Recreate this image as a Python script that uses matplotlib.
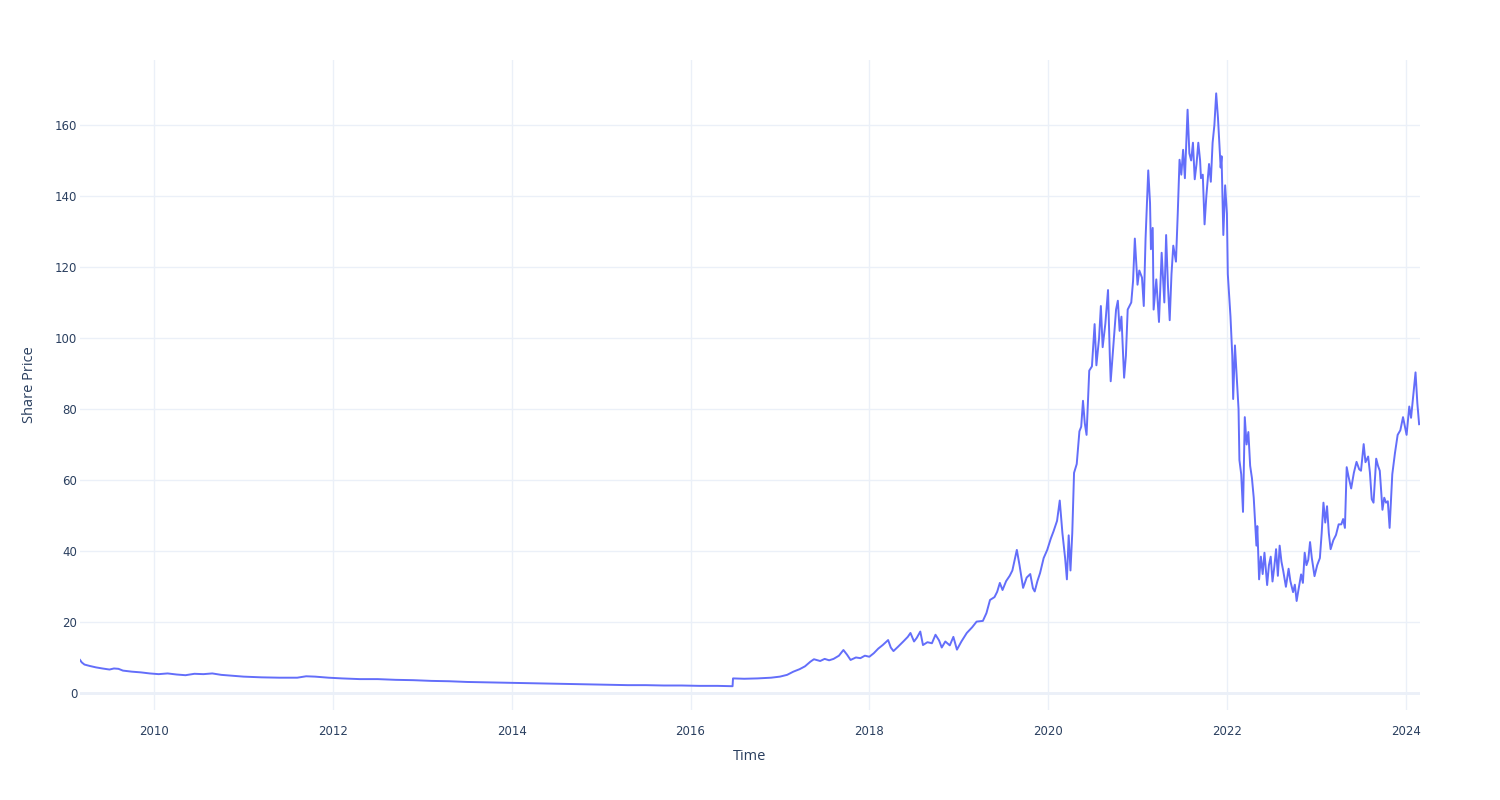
import matplotlib
matplotlib.use("Agg")
import matplotlib.pyplot as plt

# anos (decimal) e precos
anos = [2009.17, 2009.19, 2009.22, 2009.28, 2009.35, 2009.42, 2009.50, 2009.55, 2009.60, 2009.65,
        2009.75, 2009.85, 2009.95, 2010.05, 2010.15, 2010.25, 2010.35, 2010.45, 2010.55, 2010.65,
        2010.75, 2010.85, 2011.0, 2011.2, 2011.4, 2011.6, 2011.7, 2011.8, 2011.95, 2012.1,
        2012.3, 2012.5, 2012.7, 2012.9, 2013.1, 2013.3, 2013.5, 2013.7, 2013.9, 2014.1,
        2014.3, 2014.5, 2014.7, 2014.9, 2015.1, 2015.3, 2015.5, 2015.7, 2015.9, 2016.1,
        2016.3, 2016.47, 2016.475, 2016.6, 2016.75, 2016.9, 2017.0, 2017.08, 2017.15, 2017.22,
        2017.28, 2017.34, 2017.38, 2017.45, 2017.5, 2017.55, 2017.6, 2017.66, 2017.71, 2017.75,
        2017.79, 2017.85, 2017.9, 2017.95, 2018.0, 2018.05, 2018.1, 2018.15, 2018.21, 2018.24,
        2018.27, 2018.32, 2018.38, 2018.43, 2018.46, 2018.5, 2018.53, 2018.57, 2018.6, 2018.65,
        2018.7, 2018.74, 2018.78, 2018.81, 2018.85, 2018.9, 2018.94, 2018.98, 2019.03, 2019.09,
        2019.15, 2019.2, 2019.27, 2019.31, 2019.35, 2019.4, 2019.43, 2019.46, 2019.49, 2019.53,
        2019.57, 2019.6, 2019.65, 2019.68, 2019.72, 2019.76, 2019.8, 2019.83, 2019.85, 2019.88,
        2019.91, 2019.95, 2019.99, 2020.03, 2020.06, 2020.1, 2020.13, 2020.16, 2020.19, 2020.21,
        2020.23, 2020.25, 2020.27, 2020.29, 2020.32, 2020.35, 2020.37, 2020.39, 2020.41, 2020.43,
        2020.46, 2020.49, 2020.52, 2020.54, 2020.57, 2020.59, 2020.61, 2020.64, 2020.67, 2020.69,
        2020.7, 2020.73, 2020.76, 2020.78, 2020.8, 2020.82, 2020.85, 2020.87, 2020.89, 2020.93,
        2020.95, 2020.97, 2021.0, 2021.02, 2021.05, 2021.07, 2021.09, 2021.12, 2021.14, 2021.15,
        2021.17, 2021.18, 2021.21, 2021.24, 2021.27, 2021.3, 2021.32, 2021.34, 2021.36, 2021.38,
        2021.4, 2021.43, 2021.45, 2021.47, 2021.49, 2021.51, 2021.53, 2021.56, 2021.58, 2021.6,
        2021.62, 2021.64, 2021.66, 2021.68, 2021.7, 2021.71, 2021.73, 2021.75, 2021.77, 2021.8,
        2021.82, 2021.84, 2021.86, 2021.88, 2021.9, 2021.91, 2021.93, 2021.94, 2021.96, 2021.98,
        2022.0, 2022.01, 2022.04, 2022.06, 2022.07, 2022.09, 2022.11, 2022.13, 2022.14, 2022.16,
        2022.18, 2022.2, 2022.22, 2022.24, 2022.26, 2022.28, 2022.3, 2022.32, 2022.33, 2022.34,
        2022.36, 2022.38, 2022.4, 2022.42, 2022.45, 2022.47, 2022.49, 2022.51, 2022.53, 2022.55,
        2022.57, 2022.59, 2022.61, 2022.63, 2022.66, 2022.69, 2022.71, 2022.74, 2022.76, 2022.78,
        2022.8, 2022.83, 2022.85, 2022.87, 2022.89, 2022.91, 2022.93, 2022.95, 2022.98, 2023.01,
        2023.04, 2023.06, 2023.08, 2023.1, 2023.12, 2023.14, 2023.16, 2023.19, 2023.22, 2023.25,
        2023.28, 2023.3, 2023.32, 2023.34, 2023.36, 2023.39, 2023.42, 2023.45, 2023.48, 2023.5,
        2023.53, 2023.55, 2023.58, 2023.6, 2023.62, 2023.64, 2023.67, 2023.69, 2023.71, 2023.74,
        2023.76, 2023.78, 2023.8, 2023.82, 2023.85, 2023.88, 2023.91, 2023.94, 2023.97, 2024.01,
        2024.03, 2024.04, 2024.06, 2024.08, 2024.11, 2024.13, 2024.15]

precos = [9.3, 8.6, 8.0, 7.6, 7.2, 6.9, 6.6, 6.9, 6.8, 6.3,
          6.0, 5.8, 5.5, 5.3, 5.5, 5.2, 5.0, 5.4, 5.3, 5.5,
          5.1, 4.9, 4.6, 4.4, 4.3, 4.3, 4.7, 4.6, 4.3, 4.1,
          3.9, 3.9, 3.7, 3.6, 3.4, 3.3, 3.1, 3.0, 2.9, 2.8,
          2.7, 2.6, 2.5, 2.4, 2.3, 2.2, 2.2, 2.1, 2.1, 2.0,
          2.0, 1.9, 4.1, 4.0, 4.1, 4.3, 4.6, 5.1, 6.0, 6.7,
          7.5, 8.8, 9.5, 9.0, 9.6, 9.2, 9.6, 10.5, 12.1, 10.8,
          9.3, 10.0, 9.8, 10.5, 10.2, 11.2, 12.5, 13.5, 14.9, 12.8,
          11.8, 13.0, 14.5, 15.8, 16.9, 14.5, 15.5, 17.3, 13.5, 14.3,
          14.0, 16.4, 14.8, 12.8, 14.5, 13.4, 15.8, 12.2, 14.5, 16.9,
          18.5, 20.1, 20.3, 22.5, 26.2, 27.0, 28.5, 31.0, 29.0, 31.5,
          33.0, 34.5, 40.3, 36.0, 29.6, 32.5, 33.5, 29.5, 28.6, 31.5,
          33.8, 38.0, 40.3, 43.5, 45.5, 48.5, 54.2, 45.0, 38.0, 32.0,
          44.4, 34.5, 45.0, 62.0, 64.5, 73.7, 75.0, 82.3, 76.0, 72.7,
          90.8, 92.0, 103.9, 92.3, 100.0, 109.0, 97.4, 104.0, 113.5, 95.0,
          87.8, 98.0, 108.0, 110.5, 102.0, 106.0, 88.8, 95.0, 108.0, 110.0,
          116.0, 128.0, 115.0, 119.0, 117.0, 109.0, 128.0, 147.2, 138.0, 125.0,
          131.0, 108.0, 116.5, 104.5, 124.0, 110.0, 129.0, 115.0, 105.0, 118.0,
          126.0, 121.5, 135.0, 150.2, 146.0, 153.0, 145.0, 164.3, 152.0, 150.0,
          155.0, 144.7, 149.0, 155.0, 150.0, 145.0, 146.0, 132.0, 140.0, 149.0,
          144.0, 155.0, 160.0, 168.9, 162.0, 157.3, 148.0, 151.2, 129.0, 143.0,
          135.0, 118.0, 106.0, 95.0, 82.8, 97.9, 88.8, 80.0, 65.6, 61.6,
          51.0, 77.7, 70.0, 73.5, 64.0, 60.5, 55.0, 46.0, 41.5, 47.0,
          32.0, 38.4, 33.5, 39.5, 30.4, 36.0, 38.4, 31.4, 35.5, 40.5,
          33.0, 41.5, 37.0, 34.4, 29.9, 35.0, 31.5, 28.4, 30.5, 25.9,
          29.0, 33.4, 31.0, 39.5, 36.0, 37.5, 42.5, 38.0, 32.9, 36.0,
          38.0, 45.0, 53.6, 48.0, 52.6, 45.0, 40.5, 43.0, 44.5, 47.5,
          47.5, 49.0, 46.5, 63.6, 61.0, 57.6, 62.0, 65.1, 63.0, 62.6,
          70.1, 65.0, 66.6, 62.0, 54.6, 53.6, 66.0, 64.0, 62.6, 51.6,
          55.0, 53.6, 54.0, 46.5, 61.6, 67.6, 72.7, 74.0, 77.7, 72.7,
          78.0, 80.7, 77.5, 82.7, 90.3, 81.7, 75.7]

anos_ticks = [2010, 2012, 2014, 2016, 2018, 2020, 2022, 2024]
precos_ticks = [0, 20, 40, 60, 80, 100, 120, 140, 160]

cor_texto = "#2a3f5f"
cor_grade = "#EBF0F8"

plt.rcParams['font.family'] = ['Open Sans', 'DejaVu Sans']

fig = plt.figure(figsize=(15, 8), dpi=100)
ax = fig.add_axes([80 / 1500, 1 - 710 / 800, 1340 / 1500, 650 / 800])

ax.plot(anos, precos, color="#636EFA", linewidth=1.4, zorder=3)

ax.set_xlim(min(anos), 2024.16)
ax.set_ylim(-4.8, 178.3)
ax.set_xticks(anos_ticks)
ax.set_xticklabels([str(a) for a in anos_ticks])
ax.set_yticks(precos_ticks)

ax.grid(True, color=cor_grade, linewidth=1, zorder=0)
ax.axhline(0, color=cor_grade, linewidth=2, zorder=1)
for s in ax.spines.values():
    s.set_visible(False)
ax.tick_params(axis='both', length=0, labelsize=8.5, labelcolor=cor_texto)
ax.tick_params(axis='x', pad=11)
ax.tick_params(axis='y', pad=2)
for lbl in ax.get_xticklabels() + ax.get_yticklabels():
    lbl.set_family('DejaVu Sans')

ax.set_xlabel("Time", fontsize=10.5, color=cor_texto, labelpad=8)
ax.set_ylabel("Share Price", fontsize=10.5, color=cor_texto, labelpad=13)

fig.savefig("out.png", dpi=100)
